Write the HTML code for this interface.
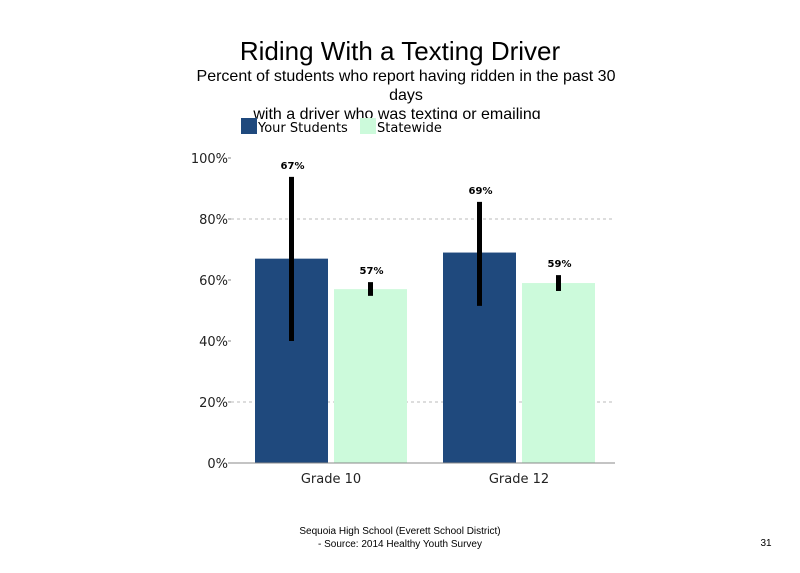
<!DOCTYPE html>
<html><head><meta charset="utf-8"><style>
body{margin:0;background:#fff;width:800px;height:568px;overflow:hidden;font-family:"Liberation Sans",sans-serif}
</style></head><body>
<svg width="800" height="568" viewBox="0 0 800 568">
<text x="400" y="60" text-anchor="middle" font-size="26">Riding With a Texting Driver</text>
<g font-size="16" text-anchor="middle">
<text x="406" y="81">Percent of students  who report having ridden in the past 30</text>
<text x="406" y="100">days</text>
<text x="397" y="119">with a driver who was texting  or emailing</text>
</g>
<rect x="0" y="119" width="800" height="30" fill="#fff"/>
<g font-family="DejaVu Sans,sans-serif" font-size="13">
<rect x="241" y="118" width="16" height="16" fill="#1f497d"/>
<text x="258" y="132">Your Students</text>
<rect x="360" y="118" width="16" height="16" fill="#ccfadb"/>
<text x="377" y="132">Statewide</text>
</g>
<g id="plot"></g>
<g font-size="10" text-anchor="middle">
<text x="400" y="534">Sequoia High School (Everett School District)</text>
<text x="400" y="547">- Source: 2014 Healthy  Youth Survey</text>
</g>
<text x="766" y="546" text-anchor="middle" font-size="10">31</text>
</svg>
<script>
const categories=["Grade 10","Grade 12"];
const yourStudents=[67,69];
const statewide=[57,59];
const yourLow=[40,51.5];
const yourHigh=[93.8,85.6];
const stateLow=[54.8,56.4];
const stateHigh=[59.3,61.6];
const yTicks=[0,20,40,60,80,100];
const NS="http://www.w3.org/2000/svg";
const g=document.getElementById('plot');
const y0=463,yTop=158,xL=231,xR=615;
const y=v=>y0-(y0-yTop)*v/100;
const cx=i=>331+i*188;
function mk(t,a){const e=document.createElementNS(NS,t);for(const k in a)e.setAttribute(k,a[k]);g.appendChild(e);return e;}
yTicks.forEach(t=>{
 if(t===20||t===80){const l=mk('line',{x1:xL,x2:xR,y1:y(t),y2:y(t),stroke:'#bbb','stroke-dasharray':'3,3'});
 
 }
 const tk=mk('line',{x1:xL-3,x2:xL,y1:y(t),y2:y(t),stroke:'#888'});
 
 
 const tx=mk('text',{x:xL-3,y:y(t)+5,'text-anchor':'end','font-size':13,'font-family':'DejaVu Sans,sans-serif',fill:'#222'});
 tx.textContent=t+'%';
 
 
});
categories.forEach((c,i)=>{
 const series=[[yourStudents,yourLow,yourHigh,'#1f497d',-76,'your-students'],[statewide,stateLow,stateHigh,'#ccfadb',3,'statewide']];
 series.forEach(([vals,lo,hi,col,off,nm])=>{
  const x=cx(i)+off;
  const r=mk('rect',{x:x,y:y(vals[i]),width:73,height:y0-y(vals[i]),fill:col});
  
  
  const ex=x+36.5;
  const eb=mk('line',{x1:ex,x2:ex,y1:y(hi[i]),y2:y(lo[i]),stroke:'#000','stroke-width':5});
  
  
  const lb=mk('text',{x:ex+1,y:y(hi[i])-8,'text-anchor':'middle','font-size':10,'font-weight':'bold','font-family':'DejaVu Sans,sans-serif'});
  lb.textContent=vals[i]+'%';
  
  
 });
 const t=mk('text',{x:cx(i),y:y0+20,'text-anchor':'middle','font-size':13,'font-family':'DejaVu Sans,sans-serif',fill:'#222'});
 t.textContent=c;
 
 
});
const ax=mk('line',{x1:xL,x2:xR,y1:y0,y2:y0,stroke:'#888'});


</script>
</body></html>
